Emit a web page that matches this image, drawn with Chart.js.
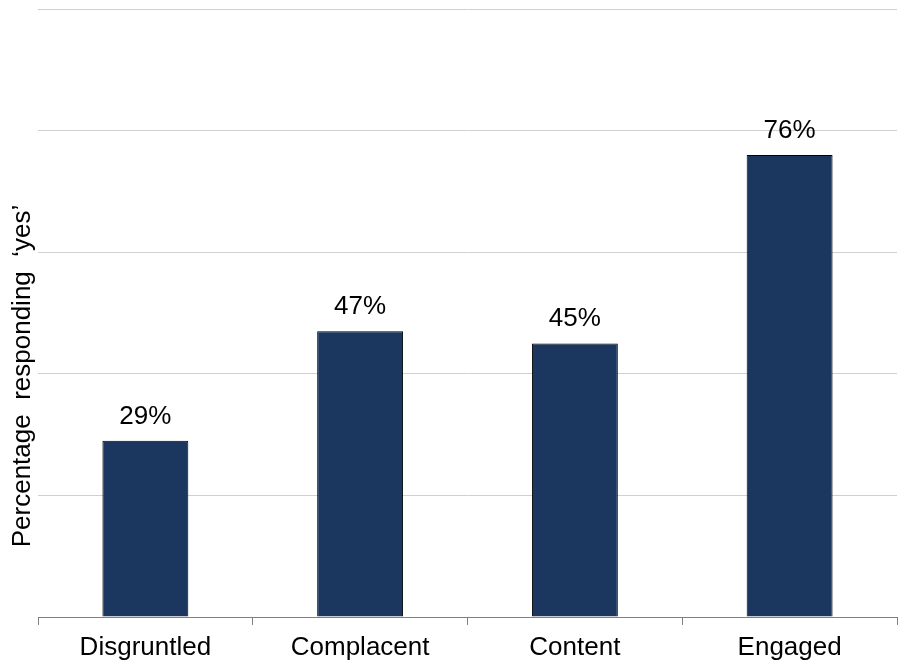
<!DOCTYPE html>
<html>
<head>
<meta charset="utf-8">
<script src="https://cdn.jsdelivr.net/npm/chart.js@4"></script>
<style>
  html, body { margin: 0; padding: 0; background: #fff; }
  #wrap { width: 901px; height: 664px; }
</style>
</head>
<body>
<div id="wrap"><canvas id="chart" width="901" height="664"></canvas></div>
<script>
const categories = ['Disgruntled', 'Complacent', 'Content', 'Engaged'];
const yesPct = [29, 47, 45, 76];
const yTicks = [0, 20, 40, 60, 80, 100];
const yTitle = 'Percentage  responding  \u2018yes\u2019';

const FONT = '"Liberation Sans", Arial, sans-serif';
const FONT_SIZE = 26;

// value labels above each bar
const valueLabels = {
    id: 'valueLabels',
    afterDatasetsDraw(chart) {
        const ctx = chart.ctx;
        const meta = chart.getDatasetMeta(0);
        ctx.save();
        ctx.font = FONT_SIZE + 'px ' + FONT;
        ctx.fillStyle = '#000';
        ctx.textAlign = 'center';
        ctx.textBaseline = 'alphabetic';
        meta.data.forEach((bar, i) => {
            ctx.fillText(yesPct[i] + '%', bar.x, bar.y - 17);
        });
        ctx.restore();
    }
};

// rotated y axis title
const sideTitle = {
    id: 'sideTitle',
    afterDraw(chart) {
        const ctx = chart.ctx;
        ctx.save();
        ctx.translate(23, 376);
        ctx.rotate(-Math.PI / 2);
        ctx.font = FONT_SIZE + 'px ' + FONT;
        ctx.fillStyle = '#000';
        ctx.textAlign = 'center';
        ctx.textBaseline = 'middle';
        ctx.fillText(yTitle, 0, 0);
        ctx.restore();
    }
};

new Chart(document.getElementById('chart'), {
    type: 'bar',
    data: {
        labels: categories,
        datasets: [{
            data: yesPct,
            backgroundColor: '#1b365f',
            borderColor: '#000',
            borderWidth: 1,
            barPercentage: 0.4,
            categoryPercentage: 1
        }]
    },
    options: {
        responsive: false,
        animation: false,
        layout: { padding: { top: 9, right: 4, bottom: 0, left: 0 } },
        plugins: {
            legend: { display: false },
            tooltip: { enabled: false }
        },
        scales: {
            x: {
                offset: true,
                afterFit(scale) { scale.height = 47; },
                grid: {
                    offset: true,
                    drawOnChartArea: false,
                    drawTicks: true,
                    tickLength: 8,
                    color: '#808080'
                },
                border: { color: '#808080', width: 1 },
                ticks: {
                    color: '#000',
                    padding: 7,
                    maxRotation: 0,
                    font: { family: FONT, size: FONT_SIZE }
                }
            },
            y: {
                min: 0,
                max: 100,
                afterBuildTicks(scale) {
                    scale.ticks = yTicks.map(v => ({ value: v }));
                },
                afterFit(scale) { scale.width = 38; },
                grid: { color: '#d0d0d0', drawTicks: false },
                border: { display: false },
                ticks: { display: false }
            }
        }
    },
    plugins: [valueLabels, sideTitle]
});
</script>
</body>
</html>
